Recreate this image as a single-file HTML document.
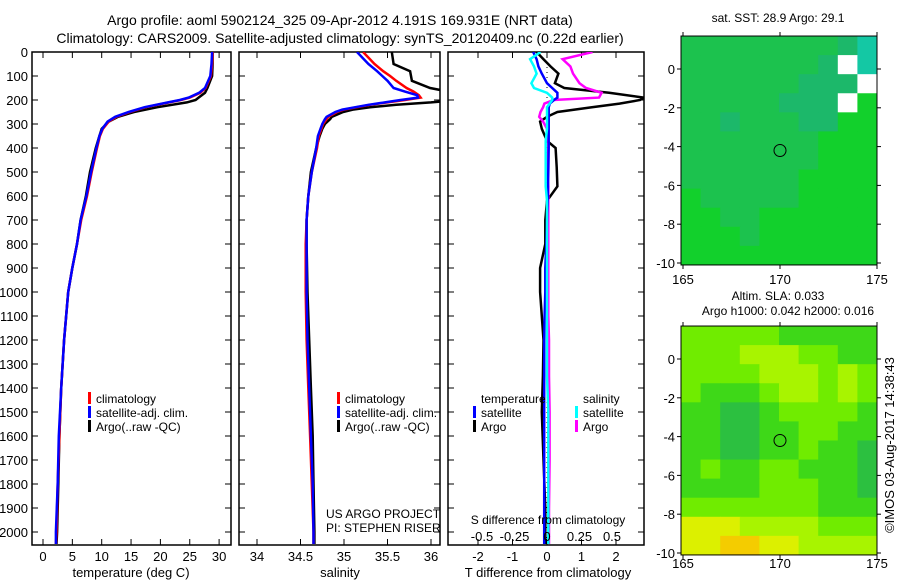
<!DOCTYPE html>
<html><head><meta charset="utf-8"><style>
body{margin:0;background:#fff}
svg{display:block;font-family:"Liberation Sans",sans-serif}
</style></head><body>
<svg id="s" width="900" height="580" viewBox="0 0 900 580">
<text x="340" y="25" font-size="14" text-anchor="middle">Argo profile: aoml 5902124_325 09-Apr-2012 4.191S 169.931E (NRT data)</text>
<text x="340" y="43" font-size="14" text-anchor="middle">Climatology: CARS2009. Satellite-adjusted climatology: synTS_20120409.nc (0.22d earlier)</text>
<g id="g"></g>
</svg>
<script>
// ---- data ----
const tDepth=[0,50,100,150,170,190,200,210,230,250,270,290,320,350,400,500,600,700,800,900,1000,1200,1400,1600,1800,2000,2050];
const tClim=[28.9,28.8,28.6,27.7,26.8,25.0,23.5,21.5,17.5,14.8,12.5,11.2,10.2,9.7,9.2,8.3,7.5,6.5,5.8,5.0,4.3,3.6,3.1,2.8,2.5,2.3,2.2];
const tSat=[28.8,28.7,28.5,27.6,26.6,24.8,23.3,21.3,17.3,14.6,12.3,11.0,10.1,9.6,9.1,8.2,7.4,6.4,5.8,5.0,4.3,3.6,3.1,2.7,2.5,2.2,2.2];
const tArgo=[28.9,28.9,28.8,28.0,27.6,26.5,26.0,24.5,19.5,15.5,12.8,11.2,10.0,9.6,9.0,8.0,7.3,6.4,5.8,5.0,4.3,3.6,3.1,2.8,2.6,2.4,2.3];
const sDepth=[0,50,80,100,120,150,165,180,190,200,210,220,230,240,250,270,280,300,320,350,400,500,600,700,800,1000,1200,1400,1600,1800,2000,2050];
const sClim=[35.22,35.35,35.45,35.53,35.6,35.72,35.8,35.86,35.88,35.7,35.5,35.3,35.15,35.0,34.92,34.82,34.8,34.76,34.74,34.71,34.69,34.63,34.59,34.57,34.56,34.56,34.57,34.59,34.61,34.63,34.65,34.65];
const sSat=[35.15,35.28,35.38,35.44,35.5,35.57,35.7,35.84,35.85,35.65,35.47,35.28,35.13,34.98,34.9,34.8,34.78,34.75,34.73,34.7,34.68,34.63,34.59,34.57,34.57,34.57,34.58,34.6,34.62,34.64,34.65,34.65];
const sArgo=[35.55,35.57,35.76,35.77,35.78,35.99,36.2,36.3,36.3,36.3,36.0,35.6,35.3,35.1,34.99,34.86,34.84,34.78,34.75,34.72,34.68,34.62,34.59,34.57,34.57,34.58,34.6,34.62,34.64,34.65,34.66,34.66];
const dDepth=[0,30,60,90,130,150,170,190,200,215,230,250,270,290,320,370,400,480,560,620,700,800,900,1000,1100,1200,1350,1500,1700,1900,2050];
const dT=[-0.3,-0.1,0.1,0.33,0.23,0.5,1.8,2.8,2.7,2.1,1.3,0.3,0.0,-0.2,-0.15,0.0,0.25,0.28,0.3,0.0,-0.05,-0.05,-0.2,-0.2,-0.15,-0.1,-0.12,-0.15,-0.1,-0.05,-0.05];
const dTsat=[-0.4,-0.3,-0.25,-0.15,0.0,0.15,0.3,0.3,0.2,0.08,0.05,0.05,0.05,0.05,0.05,0.05,0.05,0.04,0.03,0.02,0.0,-0.02,-0.05,-0.05,-0.07,-0.08,-0.08,-0.08,-0.08,-0.08,-0.08];
const dSsat=[-0.05,-0.13,-0.1,-0.08,-0.12,-0.1,0.0,0.04,0.04,0.02,0.0,0.0,0.0,0.0,0.0,-0.01,-0.01,-0.01,-0.01,0.0,0.0,0.0,0.0,0.0,0.0,0.0,0.0,0.01,0.01,0.01,0.01];
const dSargo=[0.35,0.12,0.18,0.2,0.25,0.3,0.42,0.4,0.05,-0.02,-0.03,-0.05,-0.06,-0.03,0.0,0.01,0.01,0.0,0.01,0.01,0.01,0.01,0.01,0.01,0.01,0.015,0.015,0.02,0.02,0.015,0.015];
const depthTicks=[0,100,200,300,400,500,600,700,800,900,1000,1100,1200,1300,1400,1500,1600,1700,1800,1900,2000];
const tTicks=[0,5,10,15,20,25,30];
const sTicks=[34,34.5,35,35.5,36];
const dTTicks=[-2,-1,0,1,2];
const dSTicks=[-0.5,-0.25,0,0.25,0.5];
const latTicks=[0,-2,-4,-6,-8,-10];
const lonTicks=[165,170,175];
const sstGrid=[
"1111111103","1111111043","1111110004","1111100042","1101110022","1111111222",
"1111111222","1111112222","2111112222","2211222222","2221222222","2222222222"];
const slaGrid=[
"2222211111","2223332211","2222333232","2111233232","1100122221","1100112211",
"1100112110","1211221110","1111222110","2222222111","4443333222","4455443333"];
// ---- drawing ----
const NS="http://www.w3.org/2000/svg",G=document.getElementById('g');
function el(t,a,p){const e=document.createElementNS(NS,t);for(const k in a)e.setAttribute(k,a[k]);(p||G).appendChild(e);return e;}
const pTop=52,pBot=545;
const yD=d=>pTop+d*0.24;
function panel(x0,x1,name){
 const r=el('rect',{x:x0,y:pTop,width:x1-x0,height:pBot-pTop,fill:'none',stroke:'#000','stroke-width':1.5});
 
 
 depthTicks.forEach(d=>{el('line',{x1:x0,x2:x0+6,y1:yD(d),y2:yD(d),stroke:'#000'});el('line',{x1:x1,x2:x1-6,y1:yD(d),y2:yD(d),stroke:'#000'});});
}
function txt(x,y,s,name,size,anchor){const t=el('text',{x:x,y:y,'font-size':size||13,'text-anchor':anchor||'start'});t.textContent=s;
 
 return t;}
function clip(id,x0,x1,y0,y1){const c=el('clipPath',{id:id});el('rect',{x:x0,y:y0,width:x1-x0,height:y1-y0},c);return 'url(#'+id+')';}
function lineIn(grp,xs,ds,fx,col,name){const p=el('polyline',{points:xs.map((v,i)=>fx(v).toFixed(1)+','+yD(ds[i]).toFixed(1)).join(' '),fill:'none',stroke:col,'stroke-width':2.5},grp);
 
 }
// panel 1
const fT=v=>43+v*5.87;
panel(32,231,'temperature-panel');
depthTicks.forEach(d=>txt(28,yD(d)+5,String(d),'depth-tick-label',13,'end'));
tTicks.forEach(v=>{el('line',{x1:fT(v),x2:fT(v),y1:pBot,y2:pBot-6,stroke:'#000'});el('line',{x1:fT(v),x2:fT(v),y1:pTop,y2:pTop+6,stroke:'#000'});txt(fT(v),561,String(v),'temp-tick-label',13,'middle');});
txt(131,577,'temperature (deg C)','temperature-axis-title',13,'middle');
const g1=el('g',{'clip-path':clip('c1',32,231,pTop,pBot)});
lineIn(g1,tArgo,tDepth,fT,'#000','temp-argo-line');
lineIn(g1,tClim,tDepth,fT,'#f00','temp-clim-line');
lineIn(g1,tSat,tDepth,fT,'#00f','temp-sat-line');
[['#f00','climatology'],['#00f','satellite-adj. clim.'],['#000','Argo(..raw -QC)']].forEach((l,i)=>{el('rect',{x:88,y:392+i*14,width:3,height:12,fill:l[0]});txt(96,403+i*14,l[1],'temp-legend-entry',12);});
// panel 2
const fS=v=>257+(v-34)*87;
panel(239,440,'salinity-panel');
sTicks.forEach(v=>{el('line',{x1:fS(v),x2:fS(v),y1:pBot,y2:pBot-6,stroke:'#000'});el('line',{x1:fS(v),x2:fS(v),y1:pTop,y2:pTop+6,stroke:'#000'});txt(fS(v),561,String(v),'salinity-tick-label',13,'middle');});
txt(340,577,'salinity','salinity-axis-title',13,'middle');
const g2=el('g',{'clip-path':clip('c2',239,440,pTop,pBot)});
lineIn(g2,sArgo,sDepth,fS,'#000','sal-argo-line');
lineIn(g2,sClim,sDepth,fS,'#f00','sal-clim-line');
lineIn(g2,sSat,sDepth,fS,'#00f','sal-sat-line');
[['#f00','climatology'],['#00f','satellite-adj. clim.'],['#000','Argo(..raw -QC)']].forEach((l,i)=>{el('rect',{x:337,y:392+i*14,width:3,height:12,fill:l[0]});txt(345,403+i*14,l[1],'sal-legend-entry',12);});
txt(326,518,'US ARGO PROJECT','project-label',12);
txt(326,532,'PI: STEPHEN RISER','pi-label',12);
// panel 3
const fDT=v=>547+v*34.5, fDS=v=>547+v*130;
panel(448,644,'difference-panel');
el('line',{x1:547,x2:547,y1:pTop,y2:pBot,stroke:'#000','stroke-dasharray':'1,4'});
dTTicks.forEach(v=>{el('line',{x1:fDT(v),x2:fDT(v),y1:pBot,y2:pBot-6,stroke:'#000'});el('line',{x1:fDT(v),x2:fDT(v),y1:pTop,y2:pTop+6,stroke:'#000'});txt(fDT(v),561,String(v),'dT-tick-label',13,'middle');});
const g3=el('g',{'clip-path':clip('c3',448,644,pTop,pBot)});
lineIn(g3,dT,dDepth,fDT,'#000','dT-argo-line');
lineIn(g3,dSargo,dDepth,fDS,'#f0f','dS-argo-line');
lineIn(g3,dTsat,dDepth,fDT,'#00f','dT-sat-line');
lineIn(g3,dSsat,dDepth,fDS,'#0ff','dS-sat-line');
dSTicks.forEach(v=>txt(fDS(v),541,String(v),'dS-tick-label',13,'middle'));
txt(548,524,'S difference from climatology','dS-axis-title',12,'middle');
txt(548,577,'T difference from climatology','dT-axis-title',13,'middle');
txt(481,403,'temperature','legend-temp-header',12);txt(583,403,'salinity','legend-sal-header',12);
[['#00f',473,'satellite'],['#000',473,'Argo'],['#0ff',575,'satellite'],['#f0f',575,'Argo']].forEach((l,i)=>{const r=i%2;el('rect',{x:l[1],y:406+r*14,width:3,height:12,fill:l[0]});txt(l[1]+8,417+r*14,l[2],'diff-legend-entry',12);});
// maps
const sstCol={'0':'#1cb86a','1':'#1cc24e','2':'#12d02c','3':'#14c8a4','4':'#ffffff'};
const slaCol={'0':'#2cc040','1':'#3ed818','2':'#70ec00','3':'#a8f400','4':'#dcf000','5':'#f4cc00'};
function map(yLat0,grid,cols,name,lonY){
 const x0=681,x1=877,fx=v=>683+(v-165)*19.4,fy=v=>yLat0-v*19.4,yT=fy(1.7),yB=fy(-10.1);
 const cw=(x1-x0)/10,ch=(yB-yT)/12;
 grid.forEach((row,r)=>row.split('').forEach((c,k)=>{const e=el('rect',{x:x0+k*cw,y:yT+r*ch,width:cw+0.5,height:ch+0.5,fill:cols[c]});
  
  }));
 const b=el('rect',{x:x0,y:yT,width:x1-x0,height:yB-yT,fill:'none',stroke:'#000'});
 
 
 latTicks.forEach(v=>{el('line',{x1:x0-4,x2:x0,y1:fy(v),y2:fy(v),stroke:'#000'});el('line',{x1:x1,x2:x1+4,y1:fy(v),y2:fy(v),stroke:'#000'});txt(x0-6,fy(v)+5,String(v),'lat-tick-label',13,'end');});
 lonTicks.forEach(v=>{el('line',{x1:fx(v),x2:fx(v),y1:yB,y2:yB+4,stroke:'#000'});el('line',{x1:fx(v),x2:fx(v),y1:yT,y2:yT-4,stroke:'#000'});txt(fx(v),lonY,String(v),'lon-tick-label',13,'middle');});
 const c=el('circle',{cx:fx(170),cy:fy(-4.2),r:6,fill:'none',stroke:'#000'});
 
 
}
map(69,sstGrid,sstCol,'sst-map',284);
map(359,slaGrid,slaCol,'sla-map',568);
txt(778,22,'sat. SST: 28.9 Argo: 29.1','sst-map-title',12,'middle');
txt(778,300,'Altim. SLA: 0.033','sla-map-title',12,'middle');
txt(788,315,'Argo h1000: 0.042 h2000: 0.016','sla-map-subtitle',12,'middle');
const cr=txt(0,0,'©IMOS 03-Aug-2017 14:38:43','imos-credit',13,'middle');cr.setAttribute('transform','translate(894,445) rotate(-90)');
</script>
</body></html>
